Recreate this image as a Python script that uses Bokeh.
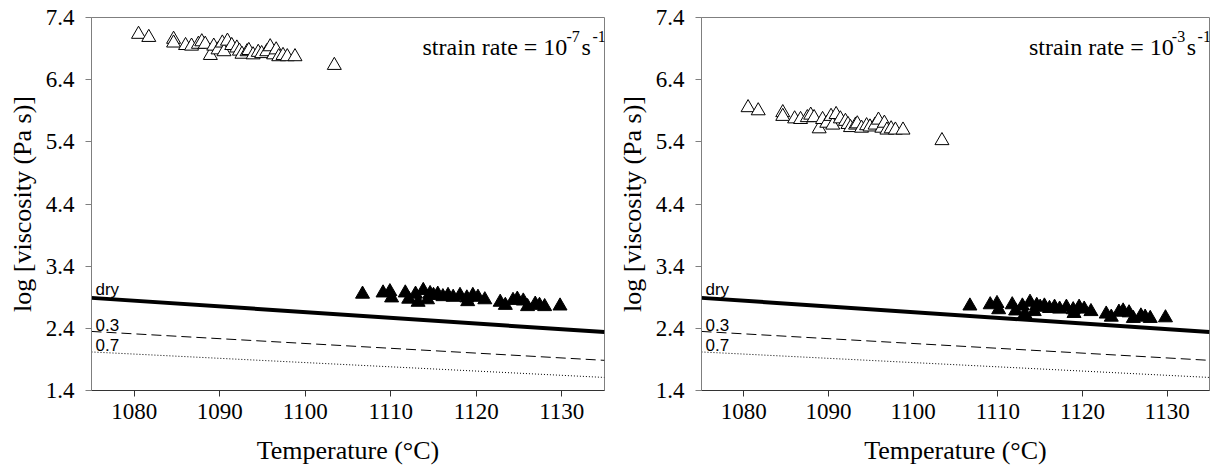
from bokeh.plotting import figure
from bokeh.layouts import row
from bokeh.models import FixedTicker, Range1d, Label, PrintfTickFormatter
from bokeh.embed import file_html
from bokeh.resources import INLINE

# ---------------- data ----------------
x_ticks = [1080, 1090, 1100, 1110, 1120, 1130]
y_ticks = [1.4, 2.4, 3.4, 4.4, 5.4, 6.4, 7.4]

line_T = [1075, 1135]
dry_line = [2.89, 2.34]
w03_line = [2.35, 1.885]
w07_line = [2.02, 1.61]

open_T = [1080.5, 1081.7, 1084.6, 1084.6, 1086.0, 1086.7, 1087.5, 1087.9, 1088.3, 1088.9,
          1089.3, 1089.8, 1090.3, 1090.5, 1090.9, 1091.4, 1092.0, 1092.3, 1092.6, 1093.2,
          1093.4, 1093.9, 1094.5, 1094.9, 1095.5, 1095.9, 1096.3, 1096.6, 1096.9, 1097.4,
          1097.9, 1098.8, 1103.4]
open_left = [7.13, 7.08, 7.05, 6.99, 6.95, 6.94, 6.97, 7.01, 6.97, 6.79,
             6.94, 6.88, 6.99, 6.85, 7.02, 6.95, 6.91, 6.86, 6.81, 6.85,
             6.87, 6.80, 6.84, 6.82, 6.85, 6.93, 6.80, 6.88, 6.77, 6.79,
             6.77, 6.77, 6.63]
open_right = [5.95, 5.90, 5.87, 5.81, 5.77, 5.76, 5.79, 5.83, 5.79, 5.61,
              5.76, 5.70, 5.81, 5.67, 5.84, 5.77, 5.73, 5.68, 5.63, 5.67,
              5.69, 5.62, 5.66, 5.64, 5.67, 5.75, 5.62, 5.70, 5.59, 5.61,
              5.59, 5.59, 5.42]

filled_T = [1106.7, 1109.1, 1109.9, 1110.1, 1111.7, 1112.1, 1112.9, 1113.2, 1113.8, 1114.3,
            1114.6, 1115.0, 1115.5, 1116.1, 1116.7, 1117.3, 1118.1, 1118.9, 1119.0, 1119.6,
            1120.2, 1121.0, 1122.8, 1123.4, 1124.3, 1124.8, 1125.5, 1126.0, 1126.9, 1127.4,
            1128.0, 1129.8]
filled_left = [2.95, 2.97, 2.99, 2.89, 2.97, 2.87, 2.95, 2.82, 3.01, 2.86,
               2.96, 2.93, 2.95, 2.91, 2.93, 2.90, 2.93, 2.89, 2.83, 2.93,
               2.90, 2.86, 2.82, 2.77, 2.85, 2.87, 2.84, 2.75, 2.79, 2.77,
               2.75, 2.76]
filled_right = [2.76, 2.78, 2.80, 2.70, 2.78, 2.68, 2.76, 2.63, 2.82, 2.67,
                2.77, 2.74, 2.76, 2.72, 2.74, 2.71, 2.74, 2.70, 2.64, 2.74,
                2.71, 2.67, 2.63, 2.58, 2.66, 2.68, 2.65, 2.56, 2.60, 2.58,
                2.56, 2.57]

rate_exp = ["-7", "-3"]

SERIF = "Liberation Serif"
SANS = "Liberation Sans"
X0, X1 = 1075, 1135
Y0, Y1 = 1.4, 7.4
FRAME_H = 373


def make_panel(width, border_left, border_right, frame_w, open_v, filled_v, exp):
    p = figure(width=width, height=475, output_backend="svg", toolbar_location=None,
               x_range=Range1d(X0, X1), y_range=Range1d(Y0, Y1),
               min_border_left=border_left, min_border_right=border_right,
               min_border_top=17, min_border_bottom=85)
    p.grid.visible = False
    p.background_fill_color = "white"
    p.border_fill_color = "white"
    p.outline_line_color = "#7f7f7f"
    p.outline_line_width = 1

    for ax in (p.xaxis[0], p.yaxis[0]):
        ax.major_label_text_font = SERIF
        ax.major_label_text_font_size = "23px"
        ax.major_label_text_color = "black"
        ax.axis_label_text_font = SERIF
        ax.axis_label_text_font_size = "26px"
        ax.axis_label_text_font_style = "normal"
        ax.axis_label_text_color = "black"
        ax.minor_tick_line_color = None
        ax.major_tick_in = 0
        ax.major_tick_out = 6
        ax.axis_line_color = "#7f7f7f"
        ax.major_tick_line_color = "#7f7f7f"
    p.xaxis.ticker = FixedTicker(ticks=x_ticks)
    p.yaxis.ticker = FixedTicker(ticks=y_ticks)
    p.yaxis.formatter = PrintfTickFormatter(format="%.1f")
    p.xaxis.axis_label = "Temperature (°C)"
    p.yaxis.axis_label = "log [viscosity (Pa s)]"
    p.xaxis.major_label_standoff = 7
    p.xaxis.axis_label_standoff = 14
    p.yaxis.major_label_standoff = 11
    p.yaxis.axis_label_standoff = 6
    p.xaxis.axis_line_color = "#333333"
    p.xaxis.major_tick_line_color = "#333333"

    # model lines
    p.line(line_T, dry_line, line_color="black", line_width=4)
    p.line(line_T, w03_line, line_color="black", line_width=1, line_dash="10 5")
    p.line(line_T, w07_line, line_color="black", line_width=1, line_dash="1 2")

    # data
    p.scatter(open_T, open_v, marker="triangle", size=14, fill_color="white",
              line_color="black", line_width=1)
    p.scatter(filled_T, filled_v, marker="triangle", size=14, fill_color="black",
              line_color="black", line_width=1)

    # conversion px -> data (relative to frame left/top)
    def dx(px):
        return X0 + px * (X1 - X0) / frame_w

    def dy(py):
        return Y1 - py * (Y1 - Y0) / FRAME_H

    for txt, py in (("dry", 272), ("0.3", 307), ("0.7", 327)):
        p.add_layout(Label(x=dx(4), y=dy(py), text=txt, text_font=SANS,
                           text_font_size="17px", text_color="black",
                           text_baseline="alphabetic"))

    # strain-rate annotation, placed from the frame's right edge
    r = frame_w
    parts = [("strain rate = 10", r - 182, 29, "24px"),
             (exp, r - 38, 19, "16px"),
             ("s", r - 23, 29, "24px"),
             ("-1", r - 12, 19, "16px")]
    for txt, px, py, fs in parts:
        p.add_layout(Label(x=dx(px), y=dy(py), text=txt, text_font=SERIF,
                           text_font_size=fs, text_color="black",
                           text_baseline="alphabetic"))
    return p


left = make_panel(614, 91, 10, 513, open_left, filled_left, rate_exp[0])
right = make_panel(596, 83, 1, 512, open_right, filled_right, rate_exp[1])

layout = row(left, right)
open("out.html", "w").write(file_html(layout, INLINE))
